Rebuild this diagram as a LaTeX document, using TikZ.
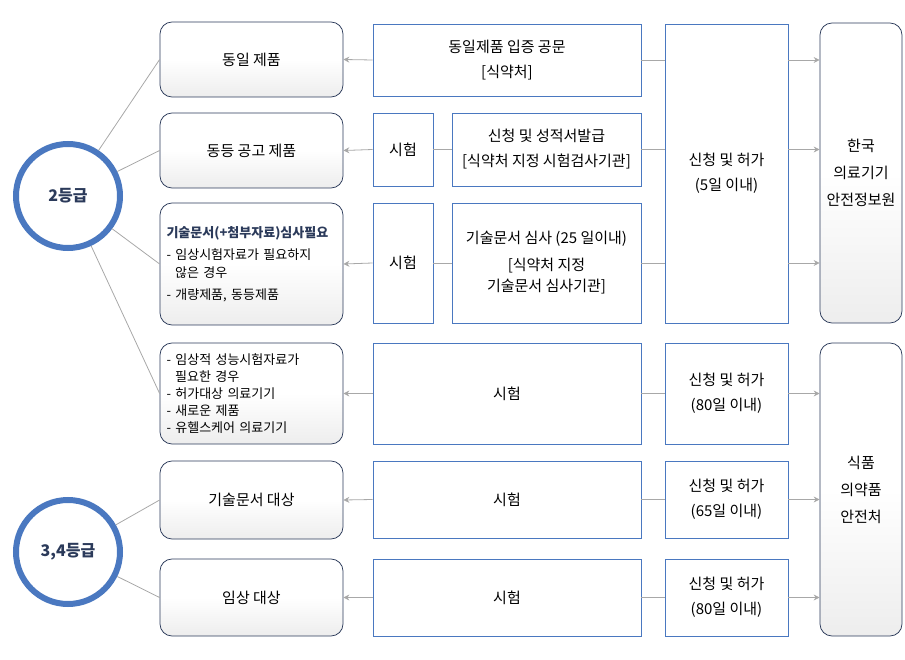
\documentclass[tikz,border=0pt]{standalone}
\usepackage{fontspec}
\usetikzlibrary{arrows.meta}
\setmainfont{Noto Sans CJK KR}
\definecolor{navy}{HTML}{2B3A5A}
\definecolor{bline}{HTML}{4A78C0}
\definecolor{gline}{HTML}{A8A8A8}
\tikzset{every picture/.style={line width=0.75pt}}
\tikzset{
  rbox/.style={draw=navy,rounded corners=12pt,top color=white,bottom color=gray!14,middle color=white,align=center,font=\fontsize{15}{21}\selectfont,inner sep=0pt},
  sbox/.style={draw=bline,fill=white,align=center,font=\fontsize{15}{25}\selectfont,inner sep=0pt},
  grade/.style={circle,draw=bline,line width=6pt,fill=white,minimum size=104pt,font=\bfseries\fontsize{16}{20}\selectfont,text=navy},
  conn/.style={draw=gline,line width=0.8pt},
  arr/.style={conn,-{Stealth[length=6pt,width=6pt]}}
}
\begin{document}
\begin{tikzpicture}[x=1pt,y=1pt,yscale=-1]
\useasboundingbox (0,0) rectangle (905,660);

% left boxes
\node[rbox,minimum width=183pt,minimum height=75pt] (l1) at (251.5,59.5) {동일 제품};
\node[rbox,minimum width=183pt,minimum height=75pt] (l2) at (251.5,150.5) {동등 공고 제품};
\node[rbox,minimum width=183pt,minimum height=122pt,font=\fontsize{13}{18}\selectfont,align=left,text width=170pt] (l3) at (251.5,264) {\textcolor{navy}{\bfseries 기술문서(+첨부자료)심사필요}\\[4pt]
  - 임상시험자료가 필요하지\\\ \ 않은 경우\\[4pt] - 개량제품, 동등제품};
\node[rbox,minimum width=183pt,minimum height=101pt,font=\fontsize{13}{17}\selectfont,align=left,text width=170pt] (l4) at (251.5,393.5) {- 임상적 성능시험자료가\\\ \ 필요한 경우\\- 허가대상 의료기기\\- 새로운 제품\\- 유헬스케어 의료기기};
\node[rbox,minimum width=183pt,minimum height=78pt] (l5) at (251.5,500) {기술문서 대상};
\node[rbox,minimum width=183pt,minimum height=77pt] (l6) at (251.5,597.5) {임상 대상};

% middle boxes
\node[sbox,minimum width=268pt,minimum height=72pt] (m1) at (507,60) {동일제품 입증 공문\\{[}식약처{]}};
\node[sbox,minimum width=60pt,minimum height=73pt] (t2) at (403,149.5) {시험};
\node[sbox,minimum width=189pt,minimum height=73pt] (m2) at (546.5,149.5) {신청 및 성적서발급\\{[}식약처 지정 시험검사기관{]}};
\node[sbox,minimum width=60pt,minimum height=120pt] (t3) at (403,263) {시험};
\node[sbox,minimum width=189pt,minimum height=120pt,font=\fontsize{15}{21}\selectfont] (m3) at (546.5,263) {기술문서 심사 (25 일이내)\\[6pt]{[}식약처 지정\\기술문서 심사기관{]}};
\node[sbox,minimum width=268pt,minimum height=101pt] (m4) at (507,393.5) {시험};
\node[sbox,minimum width=268pt,minimum height=77pt] (m5) at (507,499.5) {시험};
\node[sbox,minimum width=268pt,minimum height=77pt] (m6) at (507,597.5) {시험};

% approval boxes
\node[sbox,minimum width=123pt,minimum height=299pt] (p1) at (726.5,173.5) {신청 및 허가\\(5일 이내)};
\node[sbox,minimum width=123pt,minimum height=101pt] (p4) at (726.5,393.5) {신청 및 허가\\(80일 이내)};
\node[sbox,minimum width=123pt,minimum height=77pt] (p5) at (726.5,499.5) {신청 및 허가\\(65일 이내)};
\node[sbox,minimum width=123pt,minimum height=77pt] (p6) at (726.5,597.5) {신청 및 허가\\(80일 이내)};

% agencies
\node[rbox,minimum width=82pt,minimum height=300pt,font=\fontsize{15}{27}\selectfont] (k1) at (861,173) {한국\\의료기기\\안전정보원};
\node[rbox,minimum width=82pt,minimum height=293pt,font=\fontsize{15}{27}\selectfont] (k2) at (861,489.5) {식품\\의약품\\안전처};

% grades
\node[grade] (g2) at (68,196) {2등급};
\node[grade] (g34) at (68,552) {3,4등급};

% tree lines
\draw[conn] (g2) -- (l1.west);
\draw[conn] (g2) -- (l2.west);
\draw[conn] (g2) -- (l3.west);
\draw[conn] (g2) -- (l4.west);
\draw[conn] (g34) -- (l5.west);
\draw[conn] (g34) -- (l6.west);

% arrows to the left
\draw[arr] (m1.west) -- (l1.east);
\draw[arr] (t2.west) -- (l2.east);
\draw[arr] (t3.west) -- (l3.east);
\draw[arr] (m4.west) -- (l4.east);
\draw[arr] (m5.west) -- (l5.east);
\draw[arr] (m6.west) -- (l6.east);
\draw[conn] (m2.west) -- (t2.east);
\draw[conn] (m3.west) -- (t3.east);

% arrows to the right
\foreach \y/\a in {60/m1,149.5/m2,263/m3} {
  \draw[conn] (\a.east |- 0,\y) -- (p1.west |- 0,\y);
  \draw[arr] (p1.east |- 0,\y) -- (k1.west |- 0,\y);
}
\draw[conn] (m4.east) -- (p4.west);
\draw[conn] (m5.east) -- (p5.west);
\draw[conn] (m6.east) -- (p6.west);
\draw[arr] (p4.east) -- (k2.west |- p4.east);
\draw[arr] (p5.east) -- (k2.west |- p5.east);
\draw[arr] (p6.east) -- (k2.west |- p6.east);

\end{tikzpicture}
\end{document}
